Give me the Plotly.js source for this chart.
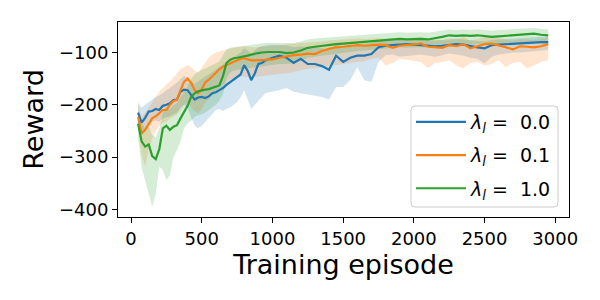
<!DOCTYPE html>
<html>
<head>
<meta charset="utf-8">
<script src="https://cdn.plot.ly/plotly-3.0.1.min.js"></script>
<style>html,body{margin:0;padding:0;background:#fff;}#chart{width:600px;height:300px;}</style>
</head>
<body>
<div id="chart"></div>
<script>
const episodes = [50,75,100,125,150,175,200,225,250,275,300,325,350,375,400,425,450,475,500,525,550,575,600,625,650,675,700,725,750,775,800,825,850,875,900,925,950,975,1000,
1050,1100,1150,1200,1250,1300,1350,1400,1450,1500,1550,1600,1650,1700,1750,1800,1850,1900,1950,2000,2050,2100,2150,2200,2250,2300,2350,2400,2450,2500,2550,2600,2650,2700,2750,2800,2850,2900,2950];

const seriesLabels = ["0.0", "0.1", "1.0"];

const blueMean = [-215,-234,-225,-213,-212,-208,-210,-202,-200,-197,-191,-190,-175,-171,-172,-182,-190,-186,-185,-187,-184,-178,-176,-172,-168,-162,-157,-153,-148,-142,-124,-135,-153,-140,-122,-120,-115,-112,-110,
-106,-110,-120,-112,-122,-122,-126,-133,-106,-118,-110,-106,-106,-103,-90,-87,-86,-85,-84,-85,-86,-87,-88,-87,-85,-84,-85,-88,-90,-92,-86,-85,-84,-83,-82,-82,-81,-80,-80];
const blueUpper = [-195,-205,-200,-195,-190,-185,-182,-178,-172,-168,-162,-158,-150,-145,-148,-155,-160,-155,-150,-146,-142,-137,-132,-127,-122,-117,-113,-109,-105,-100,-92,-96,-102,-96,-90,-88,-86,-85,-85,
-85,-86,-90,-88,-90,-90,-92,-95,-84,-88,-86,-85,-84,-82,-77,-76,-75,-75,-74,-75,-76,-76,-77,-76,-75,-74,-75,-77,-78,-79,-76,-75,-74,-73,-72,-72,-71,-70,-70];
const blueLower = [-232,-258,-250,-235,-232,-230,-232,-226,-224,-222,-218,-215,-205,-200,-205,-225,-240,-245,-240,-232,-225,-218,-210,-208,-212,-208,-205,-200,-195,-185,-172,-190,-208,-200,-192,-185,-178,-176,-175,
-172,-168,-175,-178,-180,-182,-185,-190,-166,-166,-153,-128,-153,-156,-118,-105,-104,-108,-106,-105,-104,-106,-108,-105,-102,-104,-106,-110,-112,-121,-108,-104,-102,-100,-100,-99,-98,-96,-95];

const orangeMean = [-223,-255,-248,-238,-226,-222,-215,-210,-210,-200,-193,-190,-172,-156,-150,-158,-172,-178,-170,-157,-152,-145,-138,-132,-127,-124,-121,-118,-115,-112,-111,-113,-115,-115,-115,-114,-114,-113,-113,
-110,-107,-105,-104,-102,-103,-97,-93,-90,-89,-87,-86,-87,-86,-85,-86,-91,-87,-86,-85,-83,-89,-90,-91,-86,-88,-84,-92,-88,-84,-83,-86,-90,-94,-88,-89,-90,-88,-84];
const orangeUpper = [-200,-222,-215,-205,-195,-185,-175,-168,-162,-155,-148,-140,-132,-128,-124,-128,-135,-138,-128,-118,-110,-104,-100,-98,-96,-94,-92,-91,-90,-89,-88,-89,-90,-90,-90,-89,-88,-88,-87,
-86,-84,-83,-82,-81,-81,-79,-77,-76,-75,-74,-73,-74,-73,-72,-73,-76,-74,-73,-72,-71,-75,-76,-76,-73,-74,-71,-77,-74,-71,-70,-72,-75,-78,-74,-75,-76,-74,-71];
const orangeLower = [-245,-295,-318,-285,-265,-250,-240,-235,-232,-226,-223,-218,-210,-200,-195,-205,-212,-216,-208,-196,-190,-182,-174,-167,-161,-156,-152,-149,-147,-146,-146,-147,-148,-147,-146,-145,-144,-144,-143,
-141,-140,-137,-133,-131,-130,-128,-125,-123,-122,-120,-118,-116,-112,-110,-125,-120,-112,-114,-115,-118,-130,-120,-118,-115,-125,-130,-120,-118,-125,-122,-115,-128,-120,-118,-130,-125,-118,-115];

const greenMean = [-236,-270,-280,-276,-298,-304,-285,-245,-240,-248,-242,-239,-226,-215,-202,-185,-178,-174,-172,-171,-170,-168,-166,-163,-145,-120,-114,-111,-110,-109,-108,-106,-104,-102,-101,-100,-99,-99,-99,
-99,-101,-100,-96,-91,-89,-87,-86,-84,-83,-82,-80,-79,-78,-77,-76,-75,-74,-75,-74,-74,-75,-73,-70,-67,-68,-67,-68,-67,-68,-70,-69,-68,-67,-66,-65,-64,-66,-67];
const greenUpper = [-210,-235,-245,-242,-258,-262,-245,-215,-205,-208,-202,-196,-186,-176,-165,-150,-142,-137,-133,-130,-127,-124,-121,-117,-105,-94,-91,-90,-89,-88,-87,-86,-85,-84,-83,-83,-82,-82,-82,
-82,-83,-82,-79,-75,-73,-72,-71,-70,-69,-68,-67,-66,-65,-64,-63,-62,-61,-62,-61,-61,-62,-60,-58,-56,-57,-56,-57,-56,-57,-58,-57,-56,-56,-55,-54,-53,-55,-56];
const greenLower = [-262,-320,-345,-372,-395,-370,-318,-325,-344,-335,-300,-287,-270,-245,-236,-230,-223,-220,-218,-215,-210,-205,-200,-192,-180,-150,-138,-135,-133,-132,-131,-130,-129,-128,-127,-126,-125,-125,-124,
-122,-122,-120,-116,-110,-108,-106,-104,-102,-100,-98,-97,-96,-95,-94,-92,-91,-90,-91,-90,-90,-91,-89,-87,-84,-85,-84,-85,-84,-85,-87,-86,-85,-84,-83,-82,-81,-83,-84];

const xTicks = [0,500,1000,1500,2000,2500,3000];
const yTicks = [-400,-300,-200,-100];

const colors = ["#1f77b4", "#ff7f0e", "#2ca02c"];
const fills = ["rgba(31,119,180,0.2)", "rgba(255,127,14,0.2)", "rgba(44,160,44,0.2)"];
const means = [blueMean, orangeMean, greenMean];
const uppers = [blueUpper, orangeUpper, greenUpper];
const lowers = [blueLower, orangeLower, greenLower];

const traces = [];
for (let i = 0; i < 3; i++) {
  traces.push({x: episodes, y: lowers[i], type: "scatter", mode: "lines", line: {width: 0, color: colors[i]}, showlegend: false, hoverinfo: "skip"});
  traces.push({x: episodes, y: uppers[i], type: "scatter", mode: "lines", line: {width: 0, color: colors[i]}, fill: "tonexty", fillcolor: fills[i], showlegend: false, hoverinfo: "skip"});
}
for (let i = 0; i < 3; i++) {
  traces.push({x: episodes, y: means[i], type: "scatter", mode: "lines", line: {width: 2.2, color: colors[i]},
    name: "<i>λ</i><sub><i>l</i></sub> = &nbsp;" + seriesLabels[i], legendgroup: "g" + i});
}

// legend frame (rounded, light grey) in paper coordinates
const PW = 451, PH = 195;
const fx0 = (411 - 118) / PW, fx1 = (558 - 118) / PW;
const fy0 = (217 - 207) / PH, fy1 = (217 - 106) / PH;
const rx = 4 / PW, ry = 4 / PH;
const framePath = `M${fx0 + rx},${fy0} L${fx1 - rx},${fy0} Q${fx1},${fy0} ${fx1},${fy0 + ry} L${fx1},${fy1 - ry} Q${fx1},${fy1} ${fx1 - rx},${fy1} L${fx0 + rx},${fy1} Q${fx0},${fy1} ${fx0},${fy1 - ry} L${fx0},${fy0 + ry} Q${fx0},${fy0} ${fx0 + rx},${fy0} Z`;

const layout = {
  width: 600, height: 300,
  margin: {l: 118, r: 31, t: 22, b: 83},
  paper_bgcolor: "#fff", plot_bgcolor: "#fff",
  font: {family: "DejaVu Sans", color: "#000", size: 18},
  showlegend: true,
  shapes: [{type: "path", xref: "paper", yref: "paper", path: framePath, fillcolor: "rgba(255,255,255,0.8)", line: {color: "#cccccc", width: 1}, layer: "above"}],
  legend: {x: fx0, y: fy1 + 3 / PH, xanchor: "left", yanchor: "top", bgcolor: "rgba(0,0,0,0)", borderwidth: 0, itemwidth: 50, font: {size: 19, family: "DejaVu Sans"}, tracegroupgap: 5.5},
  xaxis: {range: [-92, 3097], tickvals: xTicks, ticks: "outside", ticklen: 5, tickwidth: 1, tickcolor: "#000", showline: true, linecolor: "#000", linewidth: 1, mirror: true, showgrid: false, zeroline: false, tickfont: {size: 18},
    title: {text: "Training episode", font: {size: 27}, standoff: 3}},
  yaxis: {range: [-414.7, -41.6], tickvals: yTicks, ticks: "outside", ticklen: 5, tickwidth: 1, tickcolor: "#000", showline: true, linecolor: "#000", linewidth: 1, mirror: true, showgrid: false, zeroline: false, tickfont: {size: 18},
    title: {text: "Reward", font: {size: 27}, standoff: 7}}
};
Plotly.newPlot("chart", traces, layout, {staticPlot: true, displayModeBar: false});
</script>
</body>
</html>
